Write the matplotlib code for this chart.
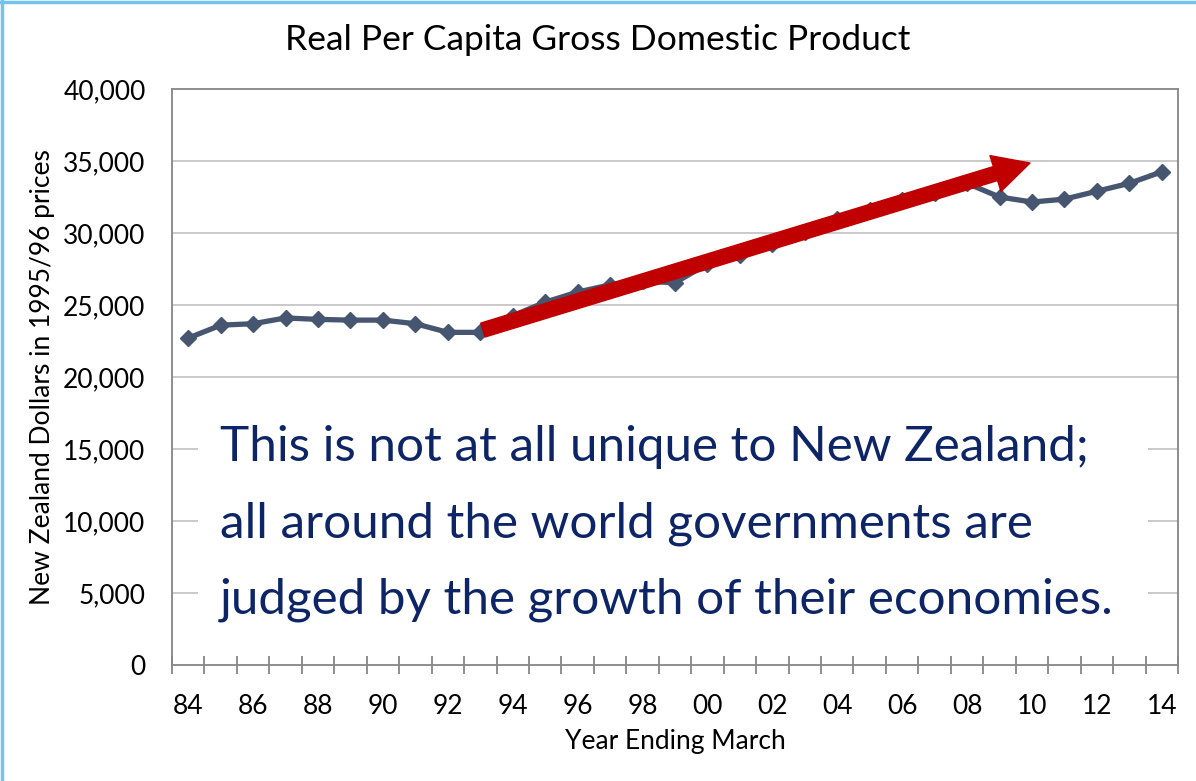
import matplotlib
matplotlib.use("Agg")
import matplotlib.pyplot as plt
from matplotlib.patches import FancyArrowPatch, Rectangle
from matplotlib.lines import Line2D

years = ["84", "85", "86", "87", "88", "89", "90", "91", "92", "93",
         "94", "95", "96", "97", "98", "99", "00", "01", "02", "03",
         "04", "05", "06", "07", "08", "09", "10", "11", "12", "13", "14"]
gdp = [22700, 23600, 23700, 24100, 24000, 23950, 23950, 23700, 23100, 23100,
       24250, 25200, 25900, 26400, 26650, 26550, 27850, 28450, 29250, 30050,
       30950, 31600, 32300, 32800, 33450, 32500, 32150, 32350, 32900, 33450, 34250]
y_ticks = [0, 5000, 10000, 15000, 20000, 25000, 30000, 35000, 40000]
y_ticklabels = ["0", "5,000", "10,000", "15,000", "20,000", "25,000", "30,000", "35,000", "40,000"]
message = ["This is not at all unique to New Zealand;",
           "all around the world governments are",
           "judged by the growth of their economies."]
arrow_start = (9.08, 23260)
arrow_end = (25.94, 34860)

FONT = "Lato"
plt.rcParams['font.family'] = [FONT, 'DejaVu Sans']

fig = plt.figure(figsize=(11.96, 7.81), dpi=100)
ax = fig.add_axes([172/1196, 1-665/781, (1178-172)/1196, (665-89)/781])

n = len(years)
x = list(range(n))
axis_col = "#868686"
grid_col = "#c0c0c0"

ax.set_xlim(-0.5, n - 0.5)
ax.set_ylim(0, 40000)

for v in y_ticks[1:-1]:
    ax.axhline(v, color=grid_col, lw=1.2, zorder=0.5)

# white background for message text
ax.add_patch(Rectangle(((198-172)/1006, (665-650)/576), (1148-198)/1006, (650-392)/576,
                       transform=ax.transAxes, facecolor="white", edgecolor="none", zorder=0.8))

ax.plot(x, gdp, color="#465670", lw=3.8, marker="D", markersize=8.5, zorder=3)

arr = FancyArrowPatch(arrow_start, arrow_end,
                      arrowstyle="simple,head_width=27,head_length=26,tail_width=10.5",
                      color="#c00000", shrinkA=0, shrinkB=0, mutation_scale=1, zorder=4)
ax.add_patch(arr)

for s in ax.spines.values():
    s.set_color(axis_col)
    s.set_linewidth(1.3)

ax.set_yticks(y_ticks)
ax.set_yticklabels(y_ticklabels)
ax.tick_params(axis="y", length=0, pad=19, labelsize=19, colors="black")

ax.set_xticks([i - 0.5 for i in range(n + 1)])
ax.set_xticklabels([])
ax.tick_params(axis="x", which="major", direction="inout", length=13, width=1.3, color=axis_col)
ax.set_xticks(x[::2], minor=True)
ax.set_xticklabels(years[::2], minor=True)
ax.tick_params(axis="x", which="minor", length=0, pad=21, labelsize=19)

ax.set_xlabel("Year Ending March", fontsize=19, labelpad=7)
ax.set_ylabel("New Zealand Dollars in 1995/96 prices", fontsize=19, labelpad=6)

fig.text(598/1196, 1-40/781, "Real Per Capita Gross Domestic Product",
         ha="center", va="center", fontsize=25.5)

baselines = [461, 537, 613]
for line, b in zip(message, baselines):
    ax.text((220-172)/1006, (665-b)/576, line, transform=ax.transAxes,
            ha="left", va="baseline", fontsize=35.6, color="#0d2567", zorder=5)

border = "#74c3ec"
fig.add_artist(Line2D([0.0015, 0.0015], [0, 1], transform=fig.transFigure, color=border, lw=2.5))
fig.add_artist(Line2D([0, 1], [0.998, 0.998], transform=fig.transFigure, color=border, lw=2.5))

fig.savefig("out.png", dpi=100, facecolor="white")
